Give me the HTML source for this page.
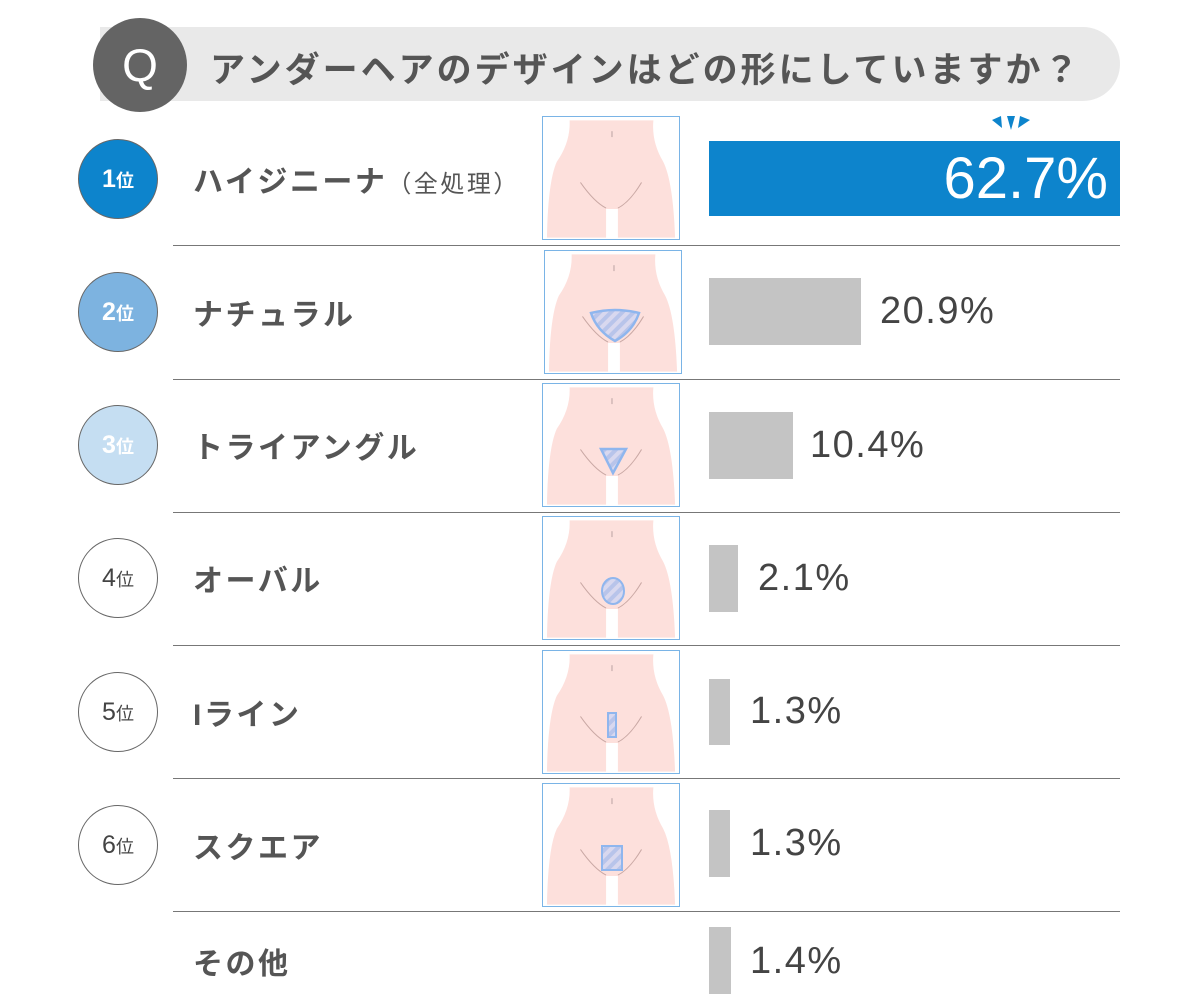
<!DOCTYPE html>
<html><head><meta charset="utf-8"><style>
body{margin:0;width:1200px;height:1000px;background:#fff;position:relative;overflow:hidden;font-family:"Liberation Sans","Noto Sans CJK JP",sans-serif;color:#505050}
.a{position:absolute}
.hr{position:absolute;left:173px;width:947px;height:1px;background:#777}
.rk{position:absolute;left:78px;width:80px;height:80px;border-radius:50%;box-sizing:border-box;border:1.5px solid #666;text-align:center;line-height:78px;font-size:25px;font-weight:bold}
.rk small{font-size:18px}
.lb{position:absolute;left:193px;font-size:30px;font-weight:bold;color:#555;letter-spacing:2.5px}
.bar{position:absolute;left:709px;background:#c4c4c4}
.pc{position:absolute;font-size:38px;color:#444;letter-spacing:1.5px}
.img{position:absolute;width:136px;height:122px;border:1.5px solid #7ab4e6}
</style></head><body>
<svg width="0" height="0" style="position:absolute"><defs>
<pattern id="st" width="8" height="8" patternUnits="userSpaceOnUse" patternTransform="rotate(45)"><rect width="8" height="8" fill="#d8d8ef"/><rect width="4" height="8" fill="#b8c4ea"/></pattern>
<symbol id="body" viewBox="0 0 138 123"><path d="M27 3 L112 3 Q110 25 122 45 Q132 65 134 122 L76 122 L76 93 L64 93 L64 122 L4 122 Q5 65 14 45 Q28 25 27 3Z" fill="#fde0dc"/><path d="M38 66 Q52 86 64 92 M100 66 Q88 86 76 92" stroke="#c9a8a4" fill="none" stroke-width="1"/><path d="M70 14 L70 20" stroke="#b9a0a0"/></symbol>
</defs></svg>
<div class="a" style="left:100px;top:27px;width:1020px;height:74px;background:#e9e9e9;border-radius:0 37px 37px 0"></div>
<div class="a" style="left:93px;top:18px;width:94px;height:94px;border-radius:50%;background:#646464;color:#fff;font-size:46px;text-align:center;line-height:94px">Q</div>
<div class="a" style="left:210px;top:42px;font-size:35px;font-weight:bold;color:#555;letter-spacing:3px">アンダーヘアのデザインはどの形にしていますか？</div>

<div class="hr" style="top:245px"></div><div class="hr" style="top:379px"></div><div class="hr" style="top:512px"></div><div class="hr" style="top:645px"></div><div class="hr" style="top:778px"></div><div class="hr" style="top:911px"></div>

<div class="rk" style="top:139px;background:#0d84cc;color:#fff">1<small>位</small></div>
<div class="rk" style="top:272px;background:#7db3e0;color:#fff">2<small>位</small></div>
<div class="rk" style="top:405px;background:#c5def2;color:#fff">3<small>位</small></div>
<div class="rk" style="top:538px;background:#fff;color:#444;font-weight:normal">4<small>位</small></div>
<div class="rk" style="top:672px;background:#fff;color:#444;font-weight:normal">5<small>位</small></div>
<div class="rk" style="top:805px;background:#fff;color:#444;font-weight:normal">6<small>位</small></div>

<div class="lb" style="top:157px">ハイジニーナ<span style="font-size:24px;font-weight:normal">（全処理）</span></div>
<div class="lb" style="top:290px">ナチュラル</div>
<div class="lb" style="top:423px">トライアングル</div>
<div class="lb" style="top:556px">オーバル</div>
<div class="lb" style="top:690px">Iライン</div>
<div class="lb" style="top:823px">スクエア</div>
<div class="lb" style="top:939px">その他</div>

<svg class="img" style="left:542px;top:116px"><use href="#body" width="136" height="122"/></svg>
<svg class="img" style="left:544px;top:250px"><use href="#body" width="136" height="122"/><path d="M46 62 Q70 56 94 62 Q88 80 70 90 Q52 80 46 62Z" fill="url(#st)" stroke="#8fb6ee" stroke-width="2.5"/></svg>
<svg class="img" style="left:542px;top:383px"><use href="#body" width="136" height="122"/><path d="M58 65 L83 65 L70 89Z" fill="url(#st)" stroke="#8fb6ee" stroke-width="2.5"/></svg>
<svg class="img" style="left:542px;top:516px"><use href="#body" width="136" height="122"/><ellipse cx="70" cy="74" rx="11" ry="13" fill="url(#st)" stroke="#8fb6ee" stroke-width="2"/></svg>
<svg class="img" style="left:542px;top:650px"><use href="#body" width="136" height="122"/><rect x="65" y="62" width="8" height="24" fill="url(#st)" stroke="#8fb6ee" stroke-width="2"/></svg>
<svg class="img" style="left:542px;top:783px"><use href="#body" width="136" height="122"/><rect x="59" y="62" width="20" height="24" fill="url(#st)" stroke="#8fb6ee" stroke-width="2"/></svg>

<svg class="a" style="left:990px;top:114px" width="44" height="20"><path d="M2 6 L11 2 L12 14Z M17 2 L25 2 L21 16Z M30 2 L40 6 L28 14Z" fill="#0d84cc"/></svg>
<div class="a" style="left:709px;top:141px;width:411px;height:75px;background:#0d84cc"></div>
<div class="a" style="left:900px;top:145px;width:208px;text-align:right;font-size:58px;color:#fff">62.7%</div>

<div class="bar" style="top:278px;width:152px;height:67px"></div><div class="pc" style="left:880px;top:290px">20.9%</div>
<div class="bar" style="top:412px;width:84px;height:67px"></div><div class="pc" style="left:810px;top:424px">10.4%</div>
<div class="bar" style="top:545px;width:29px;height:67px"></div><div class="pc" style="left:758px;top:557px">2.1%</div>
<div class="bar" style="top:679px;width:21px;height:66px"></div><div class="pc" style="left:750px;top:690px">1.3%</div>
<div class="bar" style="top:810px;width:21px;height:67px"></div><div class="pc" style="left:750px;top:822px">1.3%</div>
<div class="bar" style="top:927px;width:22px;height:67px"></div><div class="pc" style="left:750px;top:940px">1.4%</div>
</body></html>
